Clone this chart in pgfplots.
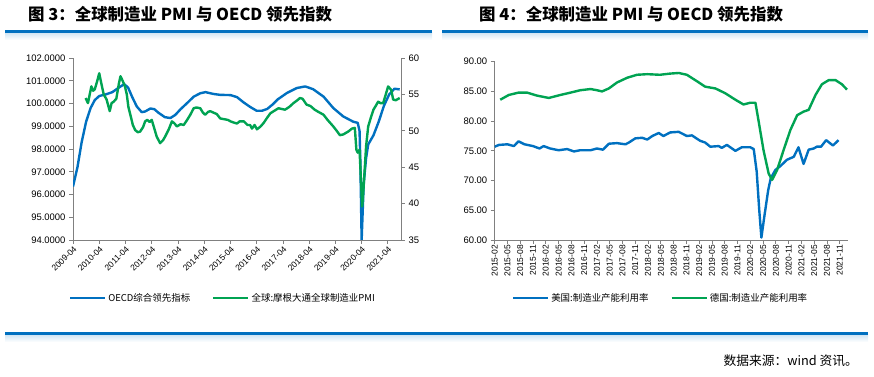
\documentclass[border=0pt]{standalone}
\usepackage{fontspec}
\setmainfont{Liberation Sans}
\newfontfamily\cjk{Noto Sans CJK SC}
\usepackage{pgfplots}
\pgfplotsset{compat=1.18}
\definecolor{sblue}{RGB}{0,112,192}
\definecolor{sgreen}{RGB}{0,163,82}
\definecolor{rulec}{RGB}{0,112,192}
\definecolor{axgray}{RGB}{128,128,128}

\pgfplotsset{
  base/.style={
    scale only axis,
    axis line style={axgray, line width=0.8bp},
    tick style={axgray, line width=0.8bp},
    tick align=outside,
    major tick length=4bp,
    ticklabel style={font=\fontsize{9.5}{10}\selectfont, text=black},
    /pgf/number format/assume math mode=true,
    legend image code/.code={\draw[##1] (0bp,0bp) -- (35bp,0bp);},
  },
  sline/.style={line width=2.4bp, line join=round},
}

\pgfplotstableread{
x y
2009.25 96.35
2009.42 97.2
2009.58 98.3
2009.75 99.2
2009.92 99.8
2010.08 100.15
2010.25 100.33
2010.5 100.4
2010.75 100.5
2011.0 100.7
2011.2 100.85
2011.35 100.7
2011.5 100.3
2011.68 99.87
2011.87 99.62
2012.0 99.65
2012.2 99.78
2012.35 99.75
2012.5 99.6
2012.75 99.4
2012.96 99.36
2013.15 99.5
2013.35 99.75
2013.6 100.02
2013.85 100.3
2014.1 100.45
2014.3 100.5
2014.6 100.42
2014.86 100.38
2015.25 100.37
2015.5 100.28
2015.75 100.05
2016.0 99.85
2016.25 99.68
2016.45 99.68
2016.65 99.76
2016.85 99.95
2017.05 100.18
2017.4 100.46
2017.78 100.68
2018.1 100.75
2018.4 100.63
2018.8 100.3
2019.17 99.8
2019.55 99.43
2019.93 99.2
2020.1 99.15
2020.17 98.8
2020.2 97.5
2020.25 94.0
2020.33 96.5
2020.42 97.6
2020.5 98.2
2020.7 98.6
2020.9 99.2
2021.1 99.9
2021.3 100.4
2021.5 100.65
2021.7 100.62
}\oecd

\pgfplotstableread{
x y
2009.73 54.5
2009.82 53.8
2009.95 56.1
2010.02 55.5
2010.08 55.7
2010.17 56.8
2010.25 57.9
2010.33 56.5
2010.42 55.0
2010.53 54.3
2010.65 52.7
2010.72 53.8
2010.8 54.0
2010.9 54.4
2011.0 56.5
2011.06 57.5
2011.15 56.8
2011.23 56.1
2011.3 55.0
2011.36 53.3
2011.45 52.0
2011.53 50.8
2011.62 50.1
2011.72 49.8
2011.81 49.9
2011.92 50.5
2012.0 51.3
2012.08 51.5
2012.17 51.2
2012.25 51.5
2012.35 50.3
2012.44 49.2
2012.57 48.3
2012.68 48.7
2012.76 49.2
2012.9 50.2
2013.02 51.3
2013.12 51.0
2013.21 50.6
2013.35 50.9
2013.47 50.8
2013.6 51.5
2013.72 52.2
2013.85 53.1
2013.95 53.2
2014.1 53.1
2014.2 52.5
2014.29 52.2
2014.4 52.6
2014.48 52.7
2014.6 52.5
2014.73 52.3
2014.86 51.7
2015.0 51.6
2015.15 51.5
2015.25 51.3
2015.4 51.1
2015.5 51.0
2015.6 51.3
2015.76 51.3
2015.9 50.8
2016.0 50.8
2016.07 50.3
2016.17 50.8
2016.26 50.2
2016.4 50.6
2016.52 51.1
2016.65 51.8
2016.77 52.4
2016.9 52.7
2017.08 53.1
2017.2 53.0
2017.33 52.9
2017.5 53.3
2017.65 53.8
2017.8 54.2
2017.9 54.5
2018.0 54.4
2018.15 53.6
2018.3 53.4
2018.46 52.9
2018.6 52.6
2018.8 52.2
2018.95 51.5
2019.17 50.6
2019.3 50.0
2019.42 49.4
2019.55 49.5
2019.74 49.9
2019.88 50.3
2019.99 50.4
2020.05 47.4
2020.1 47.0
2020.17 47.4
2020.27 39.6
2020.33 42.5
2020.42 47.9
2020.5 50.6
2020.6 51.8
2020.7 52.9
2020.8 53.5
2020.88 54.0
2020.97 53.8
2021.07 53.8
2021.17 55.0
2021.26 56.1
2021.38 55.6
2021.45 54.3
2021.55 54.2
2021.7 54.5
}\pmi

\pgfplotstableread{
x y
0 75.7
1 76.0
3 76.1
4.5 75.8
5.6 76.6
7 76.1
9 75.8
10.5 75.4
11.5 75.8
13 75.4
15 75.1
17 75.3
18.6 74.9
20 75.1
22.5 75.1
24 75.4
25.4 75.2
26.8 76.2
28.7 76.3
30.7 76.1
31.5 76.4
33 77.1
34.6 77.2
35.8 76.9
37 77.5
38.5 78.0
39.6 77.5
41.2 78.1
43.2 78.2
45.1 77.5
46.3 77.6
48.2 76.7
49.4 76.4
50.6 75.7
52.6 75.8
53.3 75.5
54.5 76.0
56.5 75.0
58 75.6
60 75.6
60.8 75.3
61.5 71.5
62.1 65.0
62.6 60.4
63.3 64.0
64.2 68.4
64.8 70.4
65.9 71.8
67 72.4
68.6 73.5
70.2 74.0
71.3 75.6
72.5 72.8
73.7 75.2
74.9 75.4
75.6 75.7
76.6 75.7
77.8 76.8
79.4 75.9
80.7 76.8
}\us

\pgfplotstableread{
x y
1.3 83.6
3.3 84.4
5.6 84.8
7.6 84.8
9.9 84.3
12.7 83.9
15.4 84.4
17.8 84.8
20.1 85.2
22.5 85.4
24 85.2
25.2 85.0
26.8 85.5
28.7 86.5
31.1 87.3
33.4 87.8
35.8 87.9
38.8 87.8
41.2 88.0
43.2 88.1
45.1 87.8
47.5 86.7
49.4 85.8
51.8 85.5
54.1 84.7
56.5 83.6
58.4 82.8
60 83.1
61.2 83.1
61.9 80.2
63.1 75.1
64.3 71.2
65.1 70.1
66.3 71.8
67.8 75.1
69.4 78.5
71.0 81.0
72.5 81.6
73.7 81.9
75.3 84.4
76.8 86.2
78.4 86.9
80.0 86.9
81.5 86.2
82.7 85.3
}\de

\begin{document}
\begin{tikzpicture}
\path (0bp,0bp) rectangle (874bp,377bp);

% titles
\node[anchor=west, font=\cjk\bfseries\fontsize{16.5}{17}\selectfont, inner sep=0pt] at (28bp,363bp) {图 3：全球制造业 PMI 与 OECD 领先指数};
\node[anchor=west, font=\cjk\bfseries\fontsize{16.5}{17}\selectfont, inner sep=0pt] at (479bp,363bp) {图 4：全球制造业 PMI 与 OECD 领先指数};

% rules
\shade[top color=rulec!18, bottom color=white] (5bp,337bp) rectangle (432bp,344bp);
\shade[top color=rulec!18, bottom color=white] (442bp,337bp) rectangle (868bp,344bp);
\fill[rulec] (5bp,344bp) rectangle (432bp,346.5bp);
\fill[rulec] (442bp,344bp) rectangle (868bp,346.5bp);
\shade[top color=rulec!18, bottom color=white] (5bp,35bp) rectangle (868bp,42bp);
\fill[rulec] (5bp,42bp) rectangle (868bp,44.5bp);

% source
\node[anchor=east, font=\cjk\fontsize{12.8}{13}\selectfont, inner sep=0pt] at (858bp,16bp) {数据来源：wind 资讯。};

% ===== left chart =====
\begin{axis}[base,
  at={(73bp,137bp)}, anchor=south west,
  width=328bp, height=182bp,
  xmin=2009.25, xmax=2021.75,
  ymin=94, ymax=102,
  axis x line*=bottom, axis y line*=left,
  xtick={2009.25,2010.25,2011.25,2012.25,2013.25,2014.25,2015.25,2016.25,2017.25,2018.25,2019.25,2020.25,2021.25},
  xticklabels={2009-04,2010-04,2011-04,2012-04,2013-04,2014-04,2015-04,2016-04,2017-04,2018-04,2019-04,2020-04,2021-04},
  x tick label style={rotate=45, anchor=north east, font=\fontsize{8.5}{8.5}\selectfont, inner sep=1pt},
  ytick={94,95,...,102},
  yticklabel style={/pgf/number format/.cd, fixed, fixed zerofill, precision=4},
]
\addplot[sline, sblue] table[x=x,y=y] {\oecd};
\end{axis}
\begin{axis}[base,
  at={(73bp,137bp)}, anchor=south west,
  width=328bp, height=182bp,
  xmin=2009.25, xmax=2021.75,
  ymin=35, ymax=60,
  axis x line=none, axis y line*=right,
  ytick={35,40,...,60},
  legend style={draw=none, fill=none, at={(0.457,-0.319)}, anchor=center,
    font=\cjk\fontsize{9.5}{10}\selectfont, legend columns=2,
    /tikz/every even column/.append style={column sep=20bp}},
  legend cell align=left,
]
\addlegendimage{sline, sblue}
\addlegendentry{OECD综合领先指标}
\addplot[sline, sgreen] table[x=x,y=y] {\pmi};
\addlegendentry{全球:摩根大通全球制造业PMI}
\end{axis}

% ===== right chart =====
\begin{axis}[base,
  at={(494.7bp,137bp)}, anchor=south west,
  width=353.6bp, height=178.3bp,
  xmin=0, xmax=83,
  ymin=60, ymax=90,
  axis x line*=bottom, axis y line*=left,
  xtick={0,3,...,81},
  xticklabels={2015-02,2015-05,2015-08,2015-11,2016-02,2016-05,2016-08,2016-11,2017-02,2017-05,2017-08,2017-11,2018-02,2018-05,2018-08,2018-11,2019-02,2019-05,2019-08,2019-11,2020-02,2020-05,2020-08,2020-11,2021-02,2021-05,2021-08,2021-11},
  x tick label style={rotate=90, anchor=east, font=\fontsize{8.5}{9}\selectfont, inner sep=1pt},
  ytick={60,65,...,90},
  yticklabel style={/pgf/number format/.cd, fixed, fixed zerofill, precision=2},
  legend style={draw=none, fill=none, at={(0.469,-0.325)}, anchor=center,
    font=\cjk\fontsize{9.5}{10}\selectfont, legend columns=2,
    /tikz/every even column/.append style={column sep=20bp}},
  legend cell align=left,
]
\addplot[sline, sblue] table[x=x,y=y] {\us};
\addlegendentry{美国:制造业产能利用率}
\addplot[sline, sgreen] table[x=x,y=y] {\de};
\addlegendentry{德国:制造业产能利用率}
\end{axis}
\end{tikzpicture}
\end{document}
